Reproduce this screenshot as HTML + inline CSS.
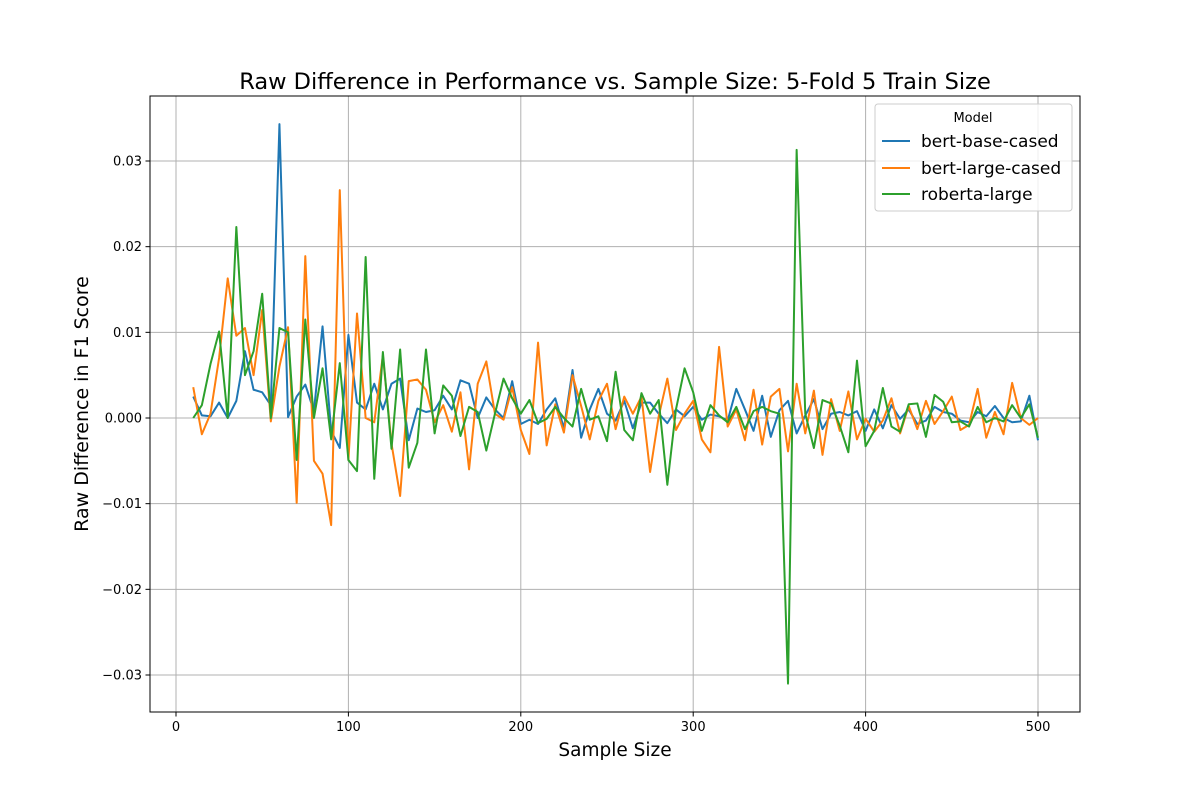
<!DOCTYPE html>
<html><head><meta charset="utf-8"><style>
body{margin:0;background:#fff;font-family:"Liberation Sans","DejaVu Sans",sans-serif}
svg text{font-family:"DejaVu Sans","Liberation Sans",sans-serif}
</style></head><body>
<svg id="chart" width="1200" height="800" xmlns="http://www.w3.org/2000/svg">
<rect width="1200" height="800" fill="#fff"/>
<text x="615" y="89" text-anchor="middle" font-size="22.5">Raw Difference in Performance vs. Sample Size: 5-Fold 5 Train Size</text>
<g id="grid"></g><g id="ticks"></g><g id="lines"></g>
<rect x="150" y="96" width="930" height="616" fill="none" stroke="#000" stroke-width="1"/>
<text x="615" y="756" text-anchor="middle" font-size="18.5">Sample Size</text>
<text transform="translate(88,404) rotate(-90)" text-anchor="middle" font-size="19">Raw Difference in F1 Score</text>
<g>
<rect x="875" y="104" width="197" height="107" rx="3" fill="#fff" fill-opacity="0.8" stroke="#ccc"/>
<text x="973" y="122" text-anchor="middle" font-size="13">Model</text>
<line x1="882" y1="141" x2="910" y2="141" stroke="#1f77b4" stroke-width="2"/>
<text x="921" y="147" font-size="17">bert-base-cased</text>
<line x1="882" y1="168" x2="910" y2="168" stroke="#ff7f0e" stroke-width="2"/>
<text x="921" y="174" font-size="17">bert-large-cased</text>
<line x1="882" y1="194" x2="910" y2="194" stroke="#2ca02c" stroke-width="2"/>
<text x="921" y="200" font-size="17">roberta-large</text>
</g>
</svg>
<script>
const bertBase=[2.5,0.3,0.2,1.8,0,2,7.8,3.3,3,1.5,34.3,0.1,2.5,3.9,0.8,10.7,-1.5,-3.5,9.7,1.8,1,4,1,4,4.6,-2.6,1.1,0.7,0.9,2.6,1,4.4,4,0,2.4,1,0,4.3,-0.7,-0.2,-0.7,1,2.3,-1.2,5.6,-2.3,1,3.4,0.5,-0.3,2,-1.2,1.8,1.8,0.5,-0.6,1,0.2,1.3,-0.2,0.4,0.2,-0.3,3.4,1,-1.5,2.6,-2.2,0.9,2,-1.8,0.3,2.2,-1.3,0.5,0.7,0.3,0.8,-1.5,1,-1.2,1.5,-0.1,1,-0.7,-0.3,1.3,0.7,0.5,-0.3,-0.5,0.7,0.2,1.4,0,-0.5,-0.4,2.6,-2.6];
const bertLarge=[3.6,-1.9,0.5,7,16.3,9.6,10.5,5,12.6,-0.4,6,10.6,-9.9,18.9,-5,-6.5,-12.5,26.6,-4.9,12.2,0,-0.5,7.3,-3,-9.1,4.3,4.5,3.3,-0.5,1.5,-1.6,3,-6,4,6.6,0.5,-0.2,3.6,-1.4,-4.2,8.8,-3.2,1.6,-1.7,5,1.4,-2.5,2,4,-1.3,2.5,0.5,2.5,-6.3,0.2,4.6,-1.4,0.5,2,-2.5,-4,8.3,-1,1,-2.6,3.3,-3.1,2.5,3.4,-3.9,4,-1.8,3.2,-4.3,2.2,-1.5,3.1,-2.5,-0.1,-1.6,-0.3,2.3,-1.8,1.4,-1.3,2,-0.7,0.8,2.5,-1.4,-0.8,3.4,-2.3,0.7,-1.9,4.1,0,-0.8,0];
const robertaLarge=[0,1.5,6.3,10.1,0,22.3,5,7.8,14.5,0,10.5,10,-4.9,11.5,0,5.8,-2.5,6.4,-4.9,-6.2,18.8,-7.1,7.7,-3.6,8,-5.8,-2.9,8,-1.8,3.8,2.6,-2.1,1.3,0.7,-3.8,0.5,4.6,2.3,0.5,2.1,-0.6,-0.1,1.3,0,-1,3.4,-0.2,0.2,-2.7,5.4,-1.4,-2.6,2.9,0.5,2.1,-7.8,1,5.8,3,-1.5,1.5,0.3,-0.5,1.3,-1.3,0.8,1.3,0.8,0.5,-31,31.3,0.5,-3.5,2.1,1.7,-0.9,-4,6.7,-3.3,-1.5,3.5,-1,-1.6,1.6,1.7,-2.2,2.7,1.9,-0.5,-0.4,-1,1.3,-0.5,0,-0.4,1.5,0,1.6,-2.3];
const xTicks=[0,100,200,300,400,500];
const yTicks=[-0.03,-0.02,-0.01,0,0.01,0.02,0.03];
const yTickLabels=["\u22120.03","\u22120.02","\u22120.01","0.000","0.01","0.02","0.03"];
const sampleSizes=bertBase.map((_,i)=>10+5*i);
const X=v=>176+v*(1038-176)/500;
const Y=v=>418-v*(418-161)/0.03;
const NS="http://www.w3.org/2000/svg";
function mk(tag,attrs,parent){const e=document.createElementNS(NS,tag);for(const k in attrs)e.setAttribute(k,attrs[k]);parent.appendChild(e);return e;}
const grid=document.getElementById('grid'),ticks=document.getElementById('ticks'),lines=document.getElementById('lines');
xTicks.forEach(t=>{
  const g=mk('line',{x1:X(t),x2:X(t),y1:96,y2:712,stroke:'#b0b0b0','stroke-width':1},grid);
  
  
  mk('line',{x1:X(t),x2:X(t),y1:712,y2:716.5,stroke:'#000'},ticks);
  const tx=mk('text',{x:X(t),y:731,'text-anchor':'middle','font-size':13},ticks);
  tx.textContent=t;
  
  
});
yTicks.forEach((t,i)=>{
  const g=mk('line',{x1:150,x2:1080,y1:Y(t),y2:Y(t),stroke:'#b0b0b0','stroke-width':1},grid);
  
  
  mk('line',{x1:145.5,x2:150,y1:Y(t),y2:Y(t),stroke:'#000'},ticks);
  const tx=mk('text',{x:142,y:Y(t)+4.5,'text-anchor':'end','font-size':13},ticks);
  tx.textContent=yTickLabels[i];
  
  
});
[[bertBase,'#1f77b4','bert-base-cased'],[bertLarge,'#ff7f0e','bert-large-cased'],[robertaLarge,'#2ca02c','roberta-large']].forEach(([arr,c,n])=>{
  const p=mk('polyline',{points:arr.map((v,i)=>X(sampleSizes[i])+','+Y(v/1000)).join(' '),fill:'none',stroke:c,'stroke-width':2,'stroke-linejoin':'round'},lines);
  
  
});
</script>
</body></html>
